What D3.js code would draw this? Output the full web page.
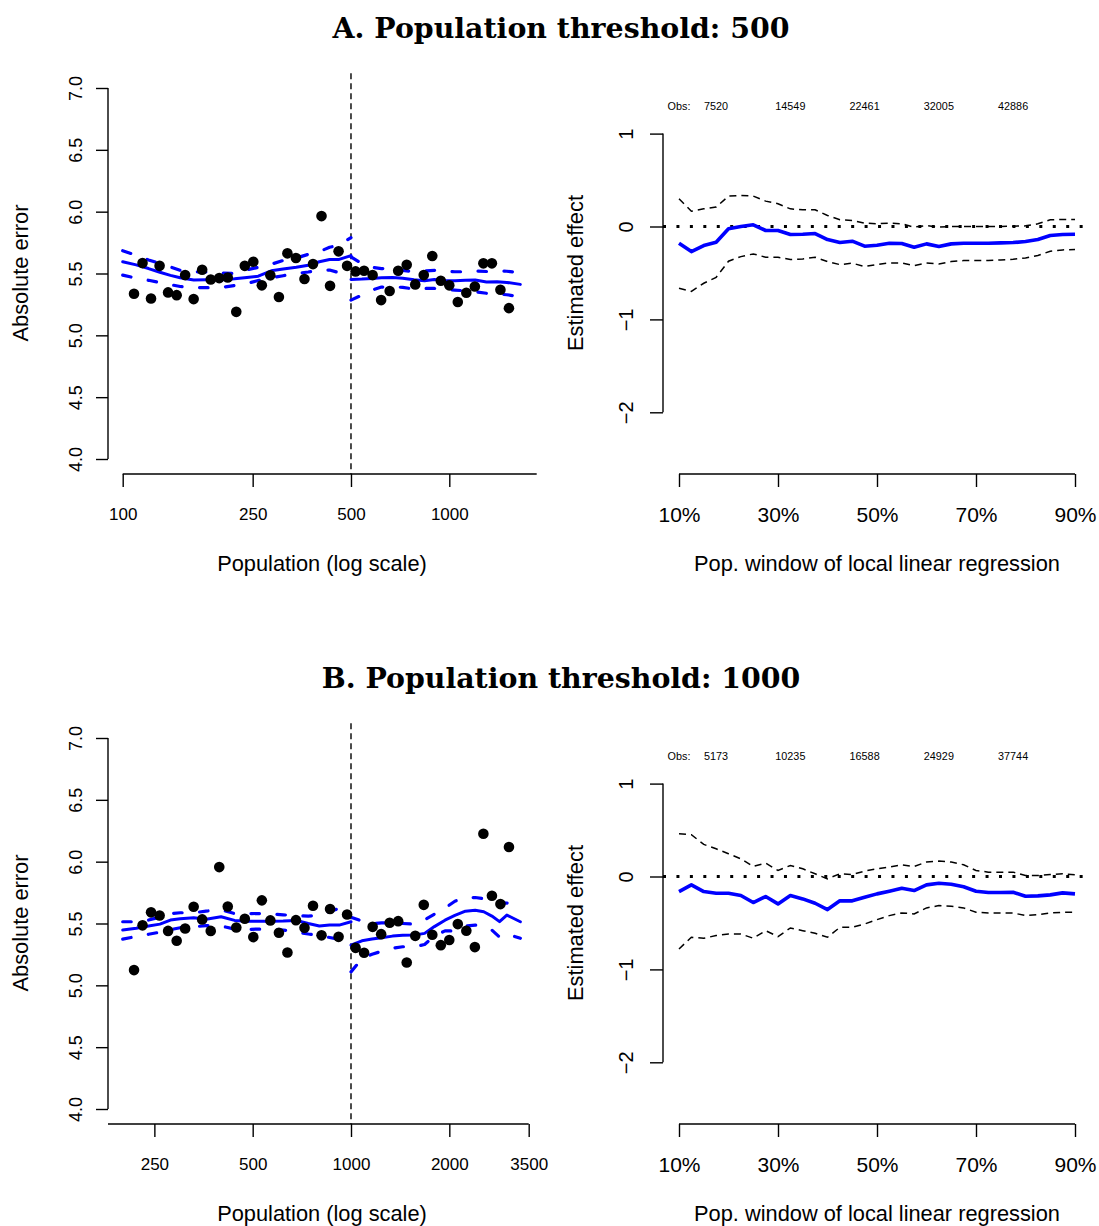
<!DOCTYPE html>
<html>
<head>
<meta charset="utf-8">
<script src="https://cdn.jsdelivr.net/npm/d3@7"></script>
<style>
  body { margin: 0; background: #fff; }
  svg { display: block; }
  text { font-family: "Liberation Sans", Arial, Helvetica, sans-serif; fill: #000; }
  .title { font-family: "DejaVu Serif", serif; font-weight: bold; }
</style>
</head>
<body>
<script>
// ---------------- data ----------------
// Panel A (threshold 500): binned means of absolute error by population
const popBinsA = [108.3, 115.0, 122.1, 129.7, 137.7, 146.3, 155.3, 164.9, 175.1, 186.0,
  197.5, 209.7, 222.7, 236.5, 251.1, 266.7, 283.2, 300.8, 319.4, 339.2,
  360.2, 382.5, 406.2, 431.4, 458.1, 486.4, 516.5, 548.3, 582.4, 618.4,
  656.7, 697.4, 740.6, 786.5, 835.2, 886.9, 941.8, 999.8, 1061.7, 1127.5,
  1197.4, 1271.5, 1350.3, 1433.9, 1522.7];
const errBinsA = [5.336, 5.584, 5.298, 5.562, 5.347, 5.325, 5.487, 5.293, 5.530, 5.452,
  5.463, 5.468, 5.190, 5.562, 5.595, 5.404, 5.485, 5.310, 5.663, 5.625,
  5.455, 5.576, 5.964, 5.400, 5.679, 5.562, 5.517, 5.522, 5.487, 5.285,
  5.358, 5.522, 5.570, 5.412, 5.487, 5.641, 5.441, 5.404, 5.269, 5.344,
  5.395, 5.582, 5.582, 5.368, 5.220];

// Panel A local linear fits, below and above the threshold
const fitPopA_below = [100, 110, 120, 130, 140, 150, 165, 180, 200, 220, 240, 260, 285, 310, 340, 370, 400, 430, 460, 500];
const fitA_below   = [5.595, 5.570, 5.540, 5.510, 5.485, 5.465, 5.448, 5.450, 5.450, 5.458, 5.468, 5.478, 5.522, 5.536, 5.550, 5.567, 5.595, 5.613, 5.614, 5.645];
const upperA_below = [5.684, 5.647, 5.610, 5.580, 5.553, 5.525, 5.514, 5.512, 5.503, 5.500, 5.530, 5.550, 5.575, 5.605, 5.625, 5.655, 5.677, 5.712, 5.730, 5.790];
const lowerA_below = [5.487, 5.462, 5.445, 5.427, 5.410, 5.395, 5.388, 5.385, 5.387, 5.403, 5.420, 5.443, 5.466, 5.482, 5.500, 5.512, 5.528, 5.528, 5.506, 5.495];
const fitPopA_above = [500, 540, 580, 620, 670, 720, 780, 840, 900, 970, 1040, 1120, 1200, 1300, 1400, 1500, 1650];
const fitA_above   = [5.452, 5.455, 5.460, 5.465, 5.468, 5.462, 5.450, 5.442, 5.452, 5.441, 5.441, 5.445, 5.447, 5.432, 5.433, 5.428, 5.412];
const upperA_above = [5.635, 5.580, 5.550, 5.540, 5.533, 5.525, 5.514, 5.520, 5.526, 5.520, 5.514, 5.514, 5.520, 5.516, 5.522, 5.518, 5.506];
const lowerA_above = [5.285, 5.325, 5.365, 5.390, 5.392, 5.388, 5.374, 5.379, 5.379, 5.370, 5.366, 5.360, 5.352, 5.340, 5.335, 5.328, 5.312];

// Panel B (threshold 1000)
const popBinsB = [216.6, 230.0, 244.2, 259.4, 275.4, 292.6, 310.6, 329.8, 350.2, 372.0,
  395.0, 419.4, 445.4, 473.0, 502.2, 533.4, 566.4, 601.6, 638.8, 678.4,
  720.4, 765.0, 812.4, 862.8, 916.2, 972.8, 1033.0, 1096.6, 1164.8, 1236.8,
  1313.4, 1394.8, 1481.2, 1573.0, 1670.4, 1773.8, 1883.6, 1999.6, 2123.4, 2255.0,
  2394.8, 2543.0, 2700.6, 2867.8, 3045.4];
const errBinsB = [5.123, 5.485, 5.590, 5.565, 5.440, 5.360, 5.460, 5.635, 5.533, 5.440,
  5.956, 5.638, 5.468, 5.538, 5.390, 5.687, 5.525, 5.425, 5.266, 5.527,
  5.465, 5.643, 5.404, 5.617, 5.392, 5.573, 5.303, 5.263, 5.473, 5.414,
  5.506, 5.519, 5.185, 5.400, 5.651, 5.409, 5.325, 5.366, 5.495, 5.441,
  5.309, 6.226, 5.724, 5.657, 6.118];

const fitPopB_below = [200, 220, 240, 260, 280, 300, 330, 360, 400, 440, 480, 520, 570, 620, 680, 740, 800, 860, 920, 1000];
const fitB_below   = [5.447, 5.462, 5.480, 5.495, 5.528, 5.538, 5.546, 5.535, 5.554, 5.525, 5.519, 5.519, 5.519, 5.520, 5.525, 5.500, 5.480, 5.487, 5.487, 5.514];
const upperB_below = [5.514, 5.514, 5.528, 5.552, 5.580, 5.587, 5.587, 5.600, 5.610, 5.580, 5.580, 5.581, 5.576, 5.570, 5.563, 5.560, 5.565, 5.600, 5.620, 5.630];
const lowerB_below = [5.374, 5.395, 5.413, 5.430, 5.450, 5.466, 5.473, 5.483, 5.480, 5.455, 5.452, 5.455, 5.450, 5.447, 5.432, 5.415, 5.403, 5.387, 5.372, 5.352];
const fitPopB_above = [1000, 1080, 1160, 1240, 1340, 1440, 1560, 1680, 1800, 1940, 2080, 2240, 2400, 2550, 2700, 2850, 3000, 3300];
const fitB_above   = [5.325, 5.360, 5.374, 5.385, 5.398, 5.405, 5.406, 5.420, 5.475, 5.527, 5.565, 5.600, 5.607, 5.595, 5.560, 5.515, 5.568, 5.514];
const upperB_above = [5.550, 5.520, 5.497, 5.505, 5.506, 5.500, 5.495, 5.530, 5.575, 5.625, 5.680, 5.710, 5.710, 5.700, 5.685, 5.670, 5.665, 5.649];
const lowerB_above = [5.109, 5.215, 5.252, 5.275, 5.300, 5.312, 5.312, 5.330, 5.400, 5.440, 5.440, 5.480, 5.487, 5.475, 5.447, 5.390, 5.415, 5.380];

// Estimated discontinuity by population window (%)
const windowPct = [10, 12.5, 15, 17.5, 20, 22.5, 25, 27.5, 30, 32.5, 35, 37.5, 40, 42.5, 45, 47.5,
  50, 52.5, 55, 57.5, 60, 62.5, 65, 67.5, 70, 72.5, 75, 77.5, 80, 82.5, 85, 87.5, 90];
const effectA = [-0.180, -0.270, -0.205, -0.169, -0.025, 0.000, 0.018, -0.043, -0.043, -0.086, -0.083,
  -0.076, -0.140, -0.173, -0.158, -0.212, -0.201, -0.180, -0.183, -0.223, -0.187, -0.216,
  -0.187, -0.180, -0.180, -0.180, -0.176, -0.173, -0.162, -0.140, -0.097, -0.086, -0.083];
const effectUpperA = [0.298, 0.165, 0.190, 0.209, 0.327, 0.334, 0.327, 0.273, 0.245, 0.190, 0.180,
  0.180, 0.119, 0.072, 0.065, 0.036, 0.029, 0.036, 0.029, -0.007, 0.011, -0.007,
  0.000, 0.000, 0.000, 0.000, 0.000, 0.004, 0.007, 0.029, 0.072, 0.076, 0.076];
const effectLowerA = [-0.665, -0.698, -0.611, -0.547, -0.374, -0.324, -0.295, -0.331, -0.331, -0.356, -0.349,
  -0.331, -0.378, -0.410, -0.395, -0.431, -0.410, -0.392, -0.392, -0.421, -0.392, -0.403,
  -0.378, -0.367, -0.367, -0.367, -0.360, -0.353, -0.338, -0.313, -0.266, -0.252, -0.248];
const effectB = [-0.162, -0.090, -0.162, -0.180, -0.180, -0.205, -0.280, -0.216, -0.295, -0.205, -0.241,
  -0.288, -0.356, -0.262, -0.262, -0.223, -0.187, -0.158, -0.126, -0.151, -0.090, -0.072,
  -0.083, -0.111, -0.158, -0.173, -0.173, -0.169, -0.212, -0.209, -0.198, -0.176, -0.187];
const effectUpperB = [0.460, 0.450, 0.345, 0.298, 0.245, 0.190, 0.108, 0.144, 0.065, 0.119, 0.083,
  0.029, -0.025, 0.029, 0.022, 0.058, 0.083, 0.101, 0.126, 0.108, 0.155, 0.166,
  0.155, 0.126, 0.065, 0.047, 0.047, 0.047, 0.011, 0.011, 0.022, 0.029, 0.018];
const effectLowerB = [-0.780, -0.654, -0.665, -0.636, -0.618, -0.618, -0.665, -0.583, -0.647, -0.554, -0.583,
  -0.611, -0.654, -0.547, -0.547, -0.511, -0.464, -0.421, -0.392, -0.403, -0.338, -0.313,
  -0.320, -0.338, -0.385, -0.392, -0.392, -0.392, -0.421, -0.410, -0.392, -0.385, -0.385];

// Observation counts printed above the effect panels
const obsPct = [17.5, 32.5, 47.5, 62.5, 77.5];
const obsA = [7520, 14549, 22461, 32005, 42886];
const obsB = [5173, 10235, 16588, 24929, 37744];

// Axis ticks
const popTicks = [100, 250, 500, 1000, 2000, 3500];
const errTicks = [4.0, 4.5, 5.0, 5.5, 6.0, 6.5, 7.0];
const effectTicks = [-2, -1, 0, 1];
const windowTicks = [10, 30, 50, 70, 90];

// ---------------- layout ----------------
const W = 1099, H = 1226;
const svg = d3.select("body").append("svg").attr("width", W).attr("height", H);

const leftBox = { x0: 108, x1: 536.7, y0: 73.2, y1: 474 };
const rightBox = { x0: 663, x1: 1091, y0: 73.2, y1: 474 };
const BLUE = "#0000ff";

const yErr = d3.scaleLinear().domain([4, 7]).range([459, 88]);
const xWin = d3.scaleLinear().domain([10, 90]).range([679, 1075]);
const yEff = d3.scaleLinear().domain([-2, 1]).range([412.3, 133.6]);

function axisPath(g, x1, y1, x2, y2) {
  g.append("line").attr("x1", x1).attr("y1", y1).attr("x2", x2).attr("y2", y2)
    .attr("stroke", "#000").attr("stroke-width", 1.4);
}

function scatterPanel(g, xPop, threshold, bins, errs, segments) {
  // y axis
  const ya = g.append("g").attr("transform", `translate(${leftBox.x0},0)`)
    .call(d3.axisLeft(yErr).tickValues(errTicks).tickSize(12).tickSizeOuter(0).tickFormat(d3.format(".1f")));
  ya.select(".domain").remove();
  ya.selectAll(".tick line").attr("stroke-width", 1.4);
  ya.selectAll(".tick text").attr("x", null).attr("dy", null)
    .attr("transform", "translate(-26,0) rotate(-90)")
    .attr("text-anchor", "middle").style("font-size", "18px").style("font-family", "Liberation Sans, Arial, sans-serif");
  axisPath(g, leftBox.x0, yErr(4), leftBox.x0, yErr(7));

  // x axis (log scale)
  const inRange = popTicks.filter(v => xPop(v) >= leftBox.x0 - 0.5 && xPop(v) <= leftBox.x1 + 0.5);
  const xa = g.append("g").attr("transform", `translate(0,${leftBox.y1})`)
    .call(d3.axisBottom(xPop).tickValues(inRange).tickSize(13).tickSizeOuter(0).tickFormat(d => String(d)));
  xa.select(".domain").remove();
  xa.selectAll(".tick line").attr("stroke-width", 1.4);
  xa.selectAll(".tick text").attr("y", 45.5).attr("dy", null)
    .style("font-size", "17px").style("font-family", "Liberation Sans, Arial, sans-serif");
  const allX = popTicks.map(xPop);
  axisPath(g, Math.max(d3.min(allX), leftBox.x0), leftBox.y1, Math.min(d3.max(allX), leftBox.x1), leftBox.y1);

  // threshold
  g.append("line")
    .attr("x1", xPop(threshold)).attr("x2", xPop(threshold))
    .attr("y1", leftBox.y0).attr("y2", leftBox.y1)
    .attr("stroke", "#000").attr("stroke-width", 1.4).attr("stroke-dasharray", "6,4");

  // fitted lines with confidence bands
  segments.forEach(s => {
    const pts = (vals) => s.pop.map((p, i) => [xPop(p), yErr(vals[i])]);
    const line = d3.line();
    g.append("path").attr("d", line(pts(s.fit))).attr("fill", "none")
      .attr("stroke", BLUE).attr("stroke-width", 3).attr("stroke-linejoin", "round").attr("stroke-linecap", "round");
    [s.upper, s.lower].forEach(b => {
      g.append("path").attr("d", line(pts(b))).attr("fill", "none")
        .attr("stroke", BLUE).attr("stroke-width", 3.2).attr("stroke-linejoin", "round")
        .attr("stroke-linecap", "round").attr("stroke-dasharray", "8.5,17.5");
    });
  });

  // binned means
  g.selectAll("circle.bin").data(bins.map((p, i) => [p, errs[i]])).join("circle")
    .attr("class", "bin")
    .attr("cx", d => xPop(d[0])).attr("cy", d => yErr(d[1])).attr("r", 5.3).attr("fill", "#000");

  // axis titles
  g.append("text").attr("x", 322).attr("y", 571).attr("text-anchor", "middle")
    .style("font-size", "21.8px").text("Population (log scale)");
  g.append("text").attr("transform", `translate(28,273) rotate(-90)`).attr("text-anchor", "middle")
    .style("font-size", "21.8px").text("Absolute error");
}

function effectPanel(g, est, up, lo, obs) {
  // y axis
  const ya = g.append("g").attr("transform", `translate(${rightBox.x0},0)`)
    .call(d3.axisLeft(yEff).tickValues(effectTicks).tickSize(13).tickSizeOuter(0)
      .tickFormat(d => d < 0 ? "\u2212" + Math.abs(d) : String(d)));
  ya.select(".domain").remove();
  ya.selectAll(".tick line").attr("stroke-width", 1.4);
  ya.selectAll(".tick text").attr("x", null).attr("dy", null)
    .attr("transform", "translate(-30,0) rotate(-90)")
    .attr("text-anchor", "middle").style("font-size", "20px").style("font-family", "Liberation Sans, Arial, sans-serif");
  axisPath(g, rightBox.x0, yEff(-2), rightBox.x0, yEff(1));

  // x axis
  const xa = g.append("g").attr("transform", `translate(0,${rightBox.y1})`)
    .call(d3.axisBottom(xWin).tickValues(windowTicks).tickSize(13).tickSizeOuter(0).tickFormat(d => d + "%"));
  xa.select(".domain").remove();
  xa.selectAll(".tick line").attr("stroke-width", 1.4);
  xa.selectAll(".tick text").attr("y", 47.5).attr("dy", null)
    .style("font-size", "21px").style("font-family", "Liberation Sans, Arial, sans-serif");
  axisPath(g, xWin(10), rightBox.y1, xWin(90), rightBox.y1);

  // zero reference
  g.append("line").attr("x1", rightBox.x0).attr("x2", rightBox.x1)
    .attr("y1", yEff(0)).attr("y2", yEff(0))
    .attr("stroke", "#000").attr("stroke-width", 2.8).attr("stroke-dasharray", "3,10.44");

  const line = d3.line().x((d, i) => xWin(windowPct[i])).y(d => yEff(d));
  [up, lo].forEach(b => {
    g.append("path").attr("d", line(b)).attr("fill", "none")
      .attr("stroke", "#000").attr("stroke-width", 1.5).attr("stroke-dasharray", "7,5");
  });
  g.append("path").attr("d", line(est)).attr("fill", "none")
    .attr("stroke", BLUE).attr("stroke-width", 3.6).attr("stroke-linejoin", "round");

  // observation counts
  g.append("text").attr("x", xWin(10)).attr("y", 109.5).attr("text-anchor", "middle")
    .style("font-size", "10.8px").text("Obs:");
  obs.forEach((n, i) => {
    g.append("text").attr("x", xWin(obsPct[i])).attr("y", 109.5).attr("text-anchor", "middle")
      .style("font-size", "10.8px").text(n);
  });

  g.append("text").attr("x", 877).attr("y", 571).attr("text-anchor", "middle")
    .style("font-size", "21.8px").text("Pop. window of local linear regression");
  g.append("text").attr("transform", `translate(583,273) rotate(-90)`).attr("text-anchor", "middle")
    .style("font-size", "21.8px").text("Estimated effect");
}

function panelRow(offset, titleText, xPop, threshold, bins, errs, segments, est, up, lo, obs) {
  const g = svg.append("g").attr("transform", `translate(0,${offset})`);
  g.append("text").attr("class", "title").attr("x", 561).attr("y", 38).attr("text-anchor", "middle")
    .style("font-size", "28.4px").text(titleText);
  scatterPanel(g.append("g"), xPop, threshold, bins, errs, segments);
  effectPanel(g.append("g"), est, up, lo, obs);
}

const xPopA = d3.scaleLog().domain([100, 1000]).range([122.7, 449.3]);
const xPopB = d3.scaleLog().domain([1000, 10000]).range([351, 677.6]);

panelRow(0, "A. Population threshold: 500", xPopA, 500, popBinsA, errBinsA, [
  { pop: fitPopA_below, fit: fitA_below, upper: upperA_below, lower: lowerA_below },
  { pop: fitPopA_above, fit: fitA_above, upper: upperA_above, lower: lowerA_above }
], effectA, effectUpperA, effectLowerA, obsA);

panelRow(650, "B. Population threshold: 1000", xPopB, 1000, popBinsB, errBinsB, [
  { pop: fitPopB_below, fit: fitB_below, upper: upperB_below, lower: lowerB_below },
  { pop: fitPopB_above, fit: fitB_above, upper: upperB_above, lower: lowerB_above }
], effectB, effectUpperB, effectLowerB, obsB);
</script>
</body>
</html>
